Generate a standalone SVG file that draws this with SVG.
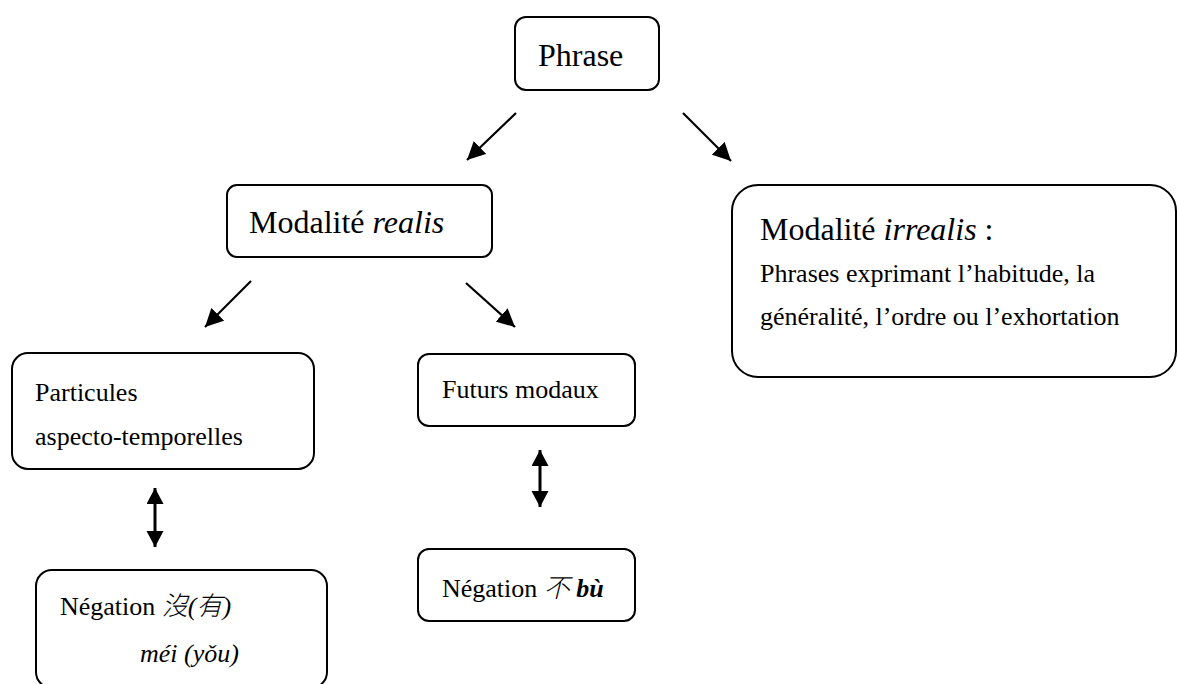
<svg xmlns="http://www.w3.org/2000/svg" width="1177" height="684" viewBox="0 0 1177 684">
<style>
.box{fill:#fff;stroke:#000;stroke-width:2}
.big{font-family:"Liberation Serif","Times New Roman",serif;font-size:32px;fill:#000}
.sm{font-family:"Liberation Serif","Times New Roman",serif;font-size:26px;fill:#000}
.cjk{font-family:"Noto Sans CJK TC","Noto Sans CJK SC",sans-serif;font-style:italic;font-weight:300}
.arr{stroke:#000;stroke-width:2.2;fill:none}
.darr{stroke:#000;stroke-width:3;fill:none}
</style>
<defs>
<marker id="ah" markerUnits="userSpaceOnUse" markerWidth="20" markerHeight="18" refX="18" refY="9" orient="auto">
<path d="M0,0 L18,9 L0,18 z" fill="#000"/>
</marker>
<marker id="dh" markerUnits="userSpaceOnUse" markerWidth="18" markerHeight="18" refX="16" refY="8.5" orient="auto-start-reverse">
<path d="M0,0 L16,8.5 L0,17 z" fill="#000"/>
</marker>
</defs>
<rect width="1177" height="684" fill="#fff"/>
<g id="phrase">
<rect class="box" x="515" y="17" width="144" height="73" rx="11"/>
<text class="big" x="538" y="66">Phrase</text>
</g>
<g id="realis">
<rect class="box" x="227" y="185" width="265" height="72" rx="10"/>
<text class="big" x="249" y="233">Modalité <tspan font-style="italic">realis</tspan></text>
</g>
<g id="irrealis">
<rect class="box" x="732" y="185" width="444" height="192" rx="26"/>
<text class="big" x="760" y="240">Modalité <tspan font-style="italic">irrealis</tspan> :</text>
<text class="sm" x="760" y="282">Phrases exprimant l’habitude, la</text>
<text class="sm" x="760" y="325">généralité, l’ordre ou l’exhortation</text>
</g>
<g id="particules">
<rect class="box" x="12" y="353" width="302" height="116" rx="16"/>
<text class="sm" x="35" y="401">Particules</text>
<text class="sm" x="35" y="445">aspecto-temporelles</text>
</g>
<g id="futurs">
<rect class="box" x="418" y="354" width="217" height="72" rx="11"/>
<text class="sm" x="442" y="398">Futurs modaux</text>
</g>
<g id="neg-bu">
<rect class="box" x="418" y="549" width="217" height="72" rx="11"/>
<text class="sm" x="442" y="597">Négation <tspan class="cjk">不</tspan> <tspan font-style="italic" font-weight="bold">bù</tspan></text>
</g>
<g id="neg-mei">
<rect class="box" x="36" y="570" width="291" height="118" rx="16"/>
<text class="sm" x="60" y="615">Négation <tspan class="cjk">沒</tspan><tspan font-style="italic">(</tspan><tspan class="cjk">有</tspan><tspan font-style="italic">)</tspan></text>
<text class="sm" x="140" y="662" font-style="italic">méi (yǒu)</text>
</g>
<g id="connectors">
<line class="arr" x1="516" y1="113" x2="467" y2="160" marker-end="url(#ah)"/>
<line class="arr" x1="683" y1="113" x2="731" y2="161" marker-end="url(#ah)"/>
<line class="arr" x1="251" y1="281" x2="205" y2="327" marker-end="url(#ah)"/>
<line class="arr" x1="466" y1="283" x2="515" y2="327" marker-end="url(#ah)"/>
<line class="darr" x1="155" y1="488" x2="155" y2="547" marker-start="url(#dh)" marker-end="url(#dh)"/>
<line class="darr" x1="540" y1="450" x2="540" y2="507" marker-start="url(#dh)" marker-end="url(#dh)"/>
</g>
</svg>
